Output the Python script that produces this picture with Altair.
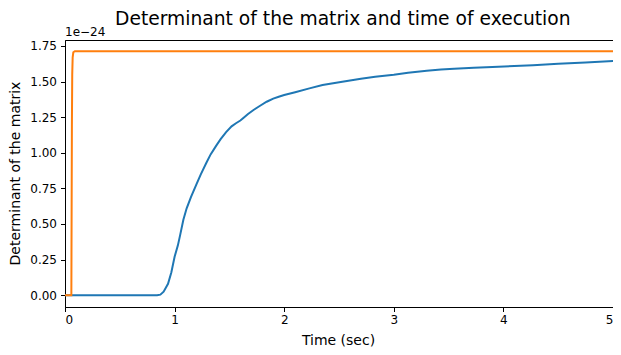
import altair as alt
import pandas as pd

# Blue series: determinant of the matrix (units of 1e-24)
det_t = [0.00, 0.84, 0.87, 0.90, 0.94, 0.97, 1.00, 1.03, 1.05, 1.08, 1.11, 1.15,
         1.20, 1.24, 1.29, 1.33, 1.38, 1.42, 1.47, 1.52, 1.56, 1.60, 1.63, 1.67,
         1.72, 1.78, 1.84, 1.90, 1.95, 2.00, 2.10, 2.23, 2.35, 2.53, 2.70, 2.83,
         3.00, 3.13, 3.30, 3.43, 3.55, 3.73, 3.90, 4.10, 4.27, 4.50, 4.75, 5.00, 5.05]
det_v = [0.000, 0.000, 0.004, 0.025, 0.080, 0.160, 0.270, 0.350, 0.420, 0.530, 0.610, 0.690,
         0.780, 0.850, 0.930, 0.990, 1.050, 1.095, 1.145, 1.185, 1.207, 1.226, 1.246, 1.272,
         1.300, 1.330, 1.358, 1.380, 1.393, 1.405, 1.425, 1.452, 1.475, 1.499, 1.520, 1.533,
         1.548, 1.562, 1.576, 1.584, 1.590, 1.596, 1.602, 1.609, 1.614, 1.624, 1.634, 1.644, 1.646]

# Orange series: second curve (units of 1e-24)
time_t = [0.000, 0.058, 0.060, 0.063, 0.066, 0.070, 0.076, 0.090, 5.05]
time_v = [0.000, 0.000, 0.500, 1.200, 1.550, 1.670, 1.705, 1.713, 1.713]

x_ticks = [0, 1, 2, 3, 4, 5]
y_ticks = [0.0, 0.25, 0.5, 0.75, 1.0, 1.25, 1.5, 1.75]

df = pd.concat([
    pd.DataFrame({"t": det_t, "v": det_v, "series": "Determinant"}),
    pd.DataFrame({"t": time_t, "v": time_v, "series": "Time"}),
])

FONT = "DejaVu Sans"

lines = alt.Chart(df).mark_line(strokeWidth=2, clip=True).encode(
    x=alt.X("t:Q",
            scale=alt.Scale(domain=[0, 5.0], nice=False, zero=False),
            axis=alt.Axis(values=x_ticks, format="d", title="Time (sec)",
                          titleX=273, titleY=37, titleBaseline="alphabetic",
                          titleAlign="center", labelPadding=3, tickSize=4.5)),
    y=alt.Y("v:Q",
            scale=alt.Scale(domain=[-0.0827, 1.7913], nice=False, zero=False),
            axis=alt.Axis(values=y_ticks, format=".2f", title="Determinant of the matrix",
                          titleX=-50, titleY=133, titleAngle=-90, titleBaseline="middle",
                          titleAlign="center", labelPadding=4, tickSize=4.5)),
    color=alt.Color("series:N",
                    scale=alt.Scale(domain=["Determinant", "Time"], range=["#1f77b4", "#ff7f0e"]),
                    legend=None),
    detail="series:N",
)

offset_text = alt.Chart(pd.DataFrame({"txt": ["1e\u221224"]})).mark_text(
    align="left", baseline="alphabetic", fontSize=12, font=FONT, color="black"
).encode(x=alt.value(0), y=alt.value(-4), text="txt:N")

chart = alt.layer(lines, offset_text).properties(
    width=548,
    height=267,
    background="white",
    title=alt.TitleParams("Determinant of the matrix and time of execution",
                          anchor="start", frame="group", dx=50, dy=18, offset=0,
                          baseline="alphabetic",
                          fontSize=18.7, font=FONT, fontWeight="normal", color="black"),
    autosize=alt.AutoSizeParams(type="none"),
    padding={"left": 57, "top": 32, "right": 0, "bottom": 40},
).configure_axis(
    grid=False,
    labelFont=FONT, titleFont=FONT,
    labelFontSize=12, titleFontSize=14,
    labelColor="black", titleColor="black",
    titleFontWeight="normal",
    tickColor="black", domainColor="black", domainWidth=1, tickWidth=1,
).configure_view(
    stroke="black", strokeWidth=1
)

chart.save("out.html", embed_options={"renderer": "svg", "actions": False})
